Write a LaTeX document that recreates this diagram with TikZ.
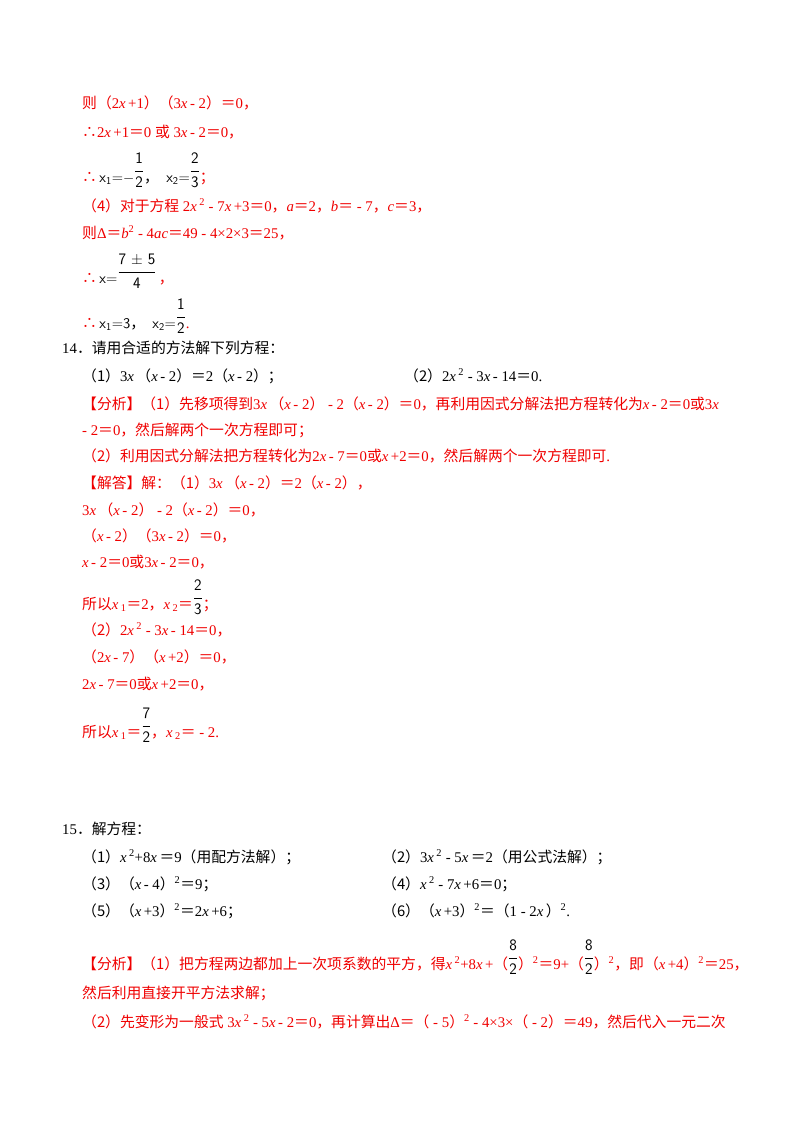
\documentclass[tikz,border=0pt]{standalone}
\usepackage{amsmath}
\usepackage{fontspec}
\setmainfont{Liberation Serif}
\newfontfamily\cjk{Noto Sans CJK SC}
\newcommand{\zh}[1]{{\cjk #1}}
\newcommand{\X}{\textit{x}\,}
\newcommand{\sq}{\textsuperscript{2}}
\newcommand{\fr}[2]{\raisebox{0.45em}{\sffamily\fontsize{16}{16}\selectfont$\genfrac{}{}{0.6pt}{0}{\textsf{#1}}{\textsf{#2}}$}}
\newcommand{\sub}[1]{\textsubscript{#1}}
\definecolor{ans}{RGB}{240,0,0}
\begin{document}
\begin{tikzpicture}[x=1pt,y=1pt,
  ln/.style={anchor=base west,inner sep=0pt,text=ans,font=\fontsize{14.8}{16}\selectfont},
  bk/.style={ln,text=black}]
\useasboundingbox[fill=white] (0,0) rectangle (800,-1132);
\node[ln] (a1) at (82,-108) {\zh{则（}2\X+1\zh{）（}3\X - 2\zh{）＝}0\zh{，}};
\node[ln] (a2) at (82,-137) {\zh{∴}2\X+1\zh{＝}0 \zh{或} 3\X - 2\zh{＝}0\zh{，}};
\node[ln] (a3) at (82,-182) {\zh{∴}\,\textcolor{black}{\sffamily x\sub{1}=$-$\fr{1}{2}\zh{，}\, x\sub{2}=\fr{2}{3}}\zh{；}};
\node[ln] (a4) at (82,-211) {\zh{（4）对于方程} 2\X\sq{} - 7\X+3\zh{＝}0\zh{，}\textit{a}\zh{＝}2\zh{，}\textit{b}\zh{＝} - 7\zh{，}\textit{c}\zh{＝}3\zh{，}};
\node[ln] (a5) at (82,-238) {\zh{则}Δ\zh{＝}\textit{b}\sq{} - 4\textit{ac}\zh{＝}49 - 4×2×3\zh{＝}25\zh{，}};
\node[ln] (a6) at (82,-283) {\zh{∴}\,\textcolor{black}{\sffamily x=\fr{7 ± 5}{4}}\,\zh{，}};
\node[ln] (a7) at (82,-328) {\zh{∴}\,\textcolor{black}{\sffamily x\sub{1}=3\zh{，}\, x\sub{2}=\fr{1}{2}}.};
\node[bk] (b0) at (62,-353) {14\zh{．请用合适的方法解下列方程：}};
\node[bk] (b1) at (82,-381) {\zh{（1）}3\X\zh{（}\X - 2\zh{）＝}2\zh{（}\X - 2\zh{）；}};
\node[bk] (b2) at (404,-381) {\zh{（2）}2\X\sq{} - 3\X - 14\zh{＝}0.};
\node[ln] (b3) at (82,-409) {\zh{【分析】（1）先移项得到}3\X\zh{（}\X - 2\zh{）} - 2\zh{（}\X - 2\zh{）＝}0\zh{，再利用因式分解法把方程转化为}\X - 2\zh{＝}0\zh{或}3\X};
\node[ln] (b4) at (82,-435) {- 2\zh{＝}0\zh{，然后解两个一次方程即可；}};
\node[ln] (b5) at (82,-461) {\zh{（2）利用因式分解法把方程转化为}2\X - 7\zh{＝}0\zh{或}\X+2\zh{＝}0\zh{，然后解两个一次方程即可}.};
\node[ln] (b6) at (82,-488) {\zh{【解答】解：（1）}3\X\zh{（}\X - 2\zh{）＝}2\zh{（}\X - 2\zh{），}};
\node[ln] (b7) at (82,-515) {3\X\zh{（}\X - 2\zh{）} - 2\zh{（}\X - 2\zh{）＝}0\zh{，}};
\node[ln] (b8) at (82,-541) {\zh{（}\X - 2\zh{）（}3\X - 2\zh{）＝}0\zh{，}};
\node[ln] (b9) at (82,-567) {\X - 2\zh{＝}0\zh{或}3\X - 2\zh{＝}0\zh{，}};
\node[ln] (b10) at (82,-609) {\zh{所以}\X\sub{1}\zh{＝}2\zh{，}\X\sub{2}\zh{＝}\textcolor{black}{\fr{2}{3}}\zh{；}};
\node[ln] (b11) at (82,-635) {\zh{（2）}2\X\sq{} - 3\X - 14\zh{＝}0\zh{，}};
\node[ln] (b12) at (82,-662) {\zh{（}2\X - 7\zh{）（}\X+2\zh{）＝}0\zh{，}};
\node[ln] (b13) at (82,-689) {2\X - 7\zh{＝}0\zh{或}\X+2\zh{＝}0\zh{，}};
\node[ln] (b14) at (82,-737) {\zh{所以}\X\sub{1}\zh{＝}\textcolor{black}{\fr{7}{2}}\zh{，}\X\sub{2}\zh{＝} - 2.};
\node[bk] (c0) at (62,-834) {15\zh{．解方程：}};
\node[bk] (c1) at (82,-862) {\zh{（1）}\X\sq+8\X\zh{＝}9\zh{（用配方法解）；}};
\node[bk] (c2) at (382,-862) {\zh{（2）}3\X\sq{} - 5\X\zh{＝}2\zh{（用公式法解）；}};
\node[bk] (c3) at (82,-889) {\zh{（3）（}\X - 4\zh{）}\textsuperscript{2}\zh{＝}9\zh{；}};
\node[bk] (c4) at (382,-889) {\zh{（4）}\X\sq{} - 7\X+6\zh{＝}0\zh{；}};
\node[bk] (c5) at (82,-916) {\zh{（5）（}\X+3\zh{）}\textsuperscript{2}\zh{＝}2\X+6\zh{；}};
\node[bk] (c6) at (382,-916) {\zh{（6）（}\X+3\zh{）}\textsuperscript{2}\zh{＝（}1 - 2\X\zh{）}\textsuperscript{2}.};
\node[ln] (c7) at (82,-969) {\zh{【分析】（1）把方程两边都加上一次项系数的平方，得}\X\sq+8\X+\zh{（}\textcolor{black}{\fr{8}{2}}\zh{）}\textsuperscript{2}\zh{＝}9+\zh{（}\textcolor{black}{\fr{8}{2}}\zh{）}\textsuperscript{2}\zh{，即（}\X+4\zh{）}\textsuperscript{2}\zh{＝}25\zh{，}};
\node[ln] (c8) at (82,-998) {\zh{然后利用直接开平方法求解；}};
\node[ln] (c9) at (82,-1027) {\zh{（2）先变形为一般式} 3\X\sq{} - 5\X - 2\zh{＝}0\zh{，再计算出}Δ\zh{＝（} - 5\zh{）}\textsuperscript{2} - 4×3×\zh{（} - 2\zh{）＝}49\zh{，然后代入一元二次}};
\end{tikzpicture}
\end{document}
